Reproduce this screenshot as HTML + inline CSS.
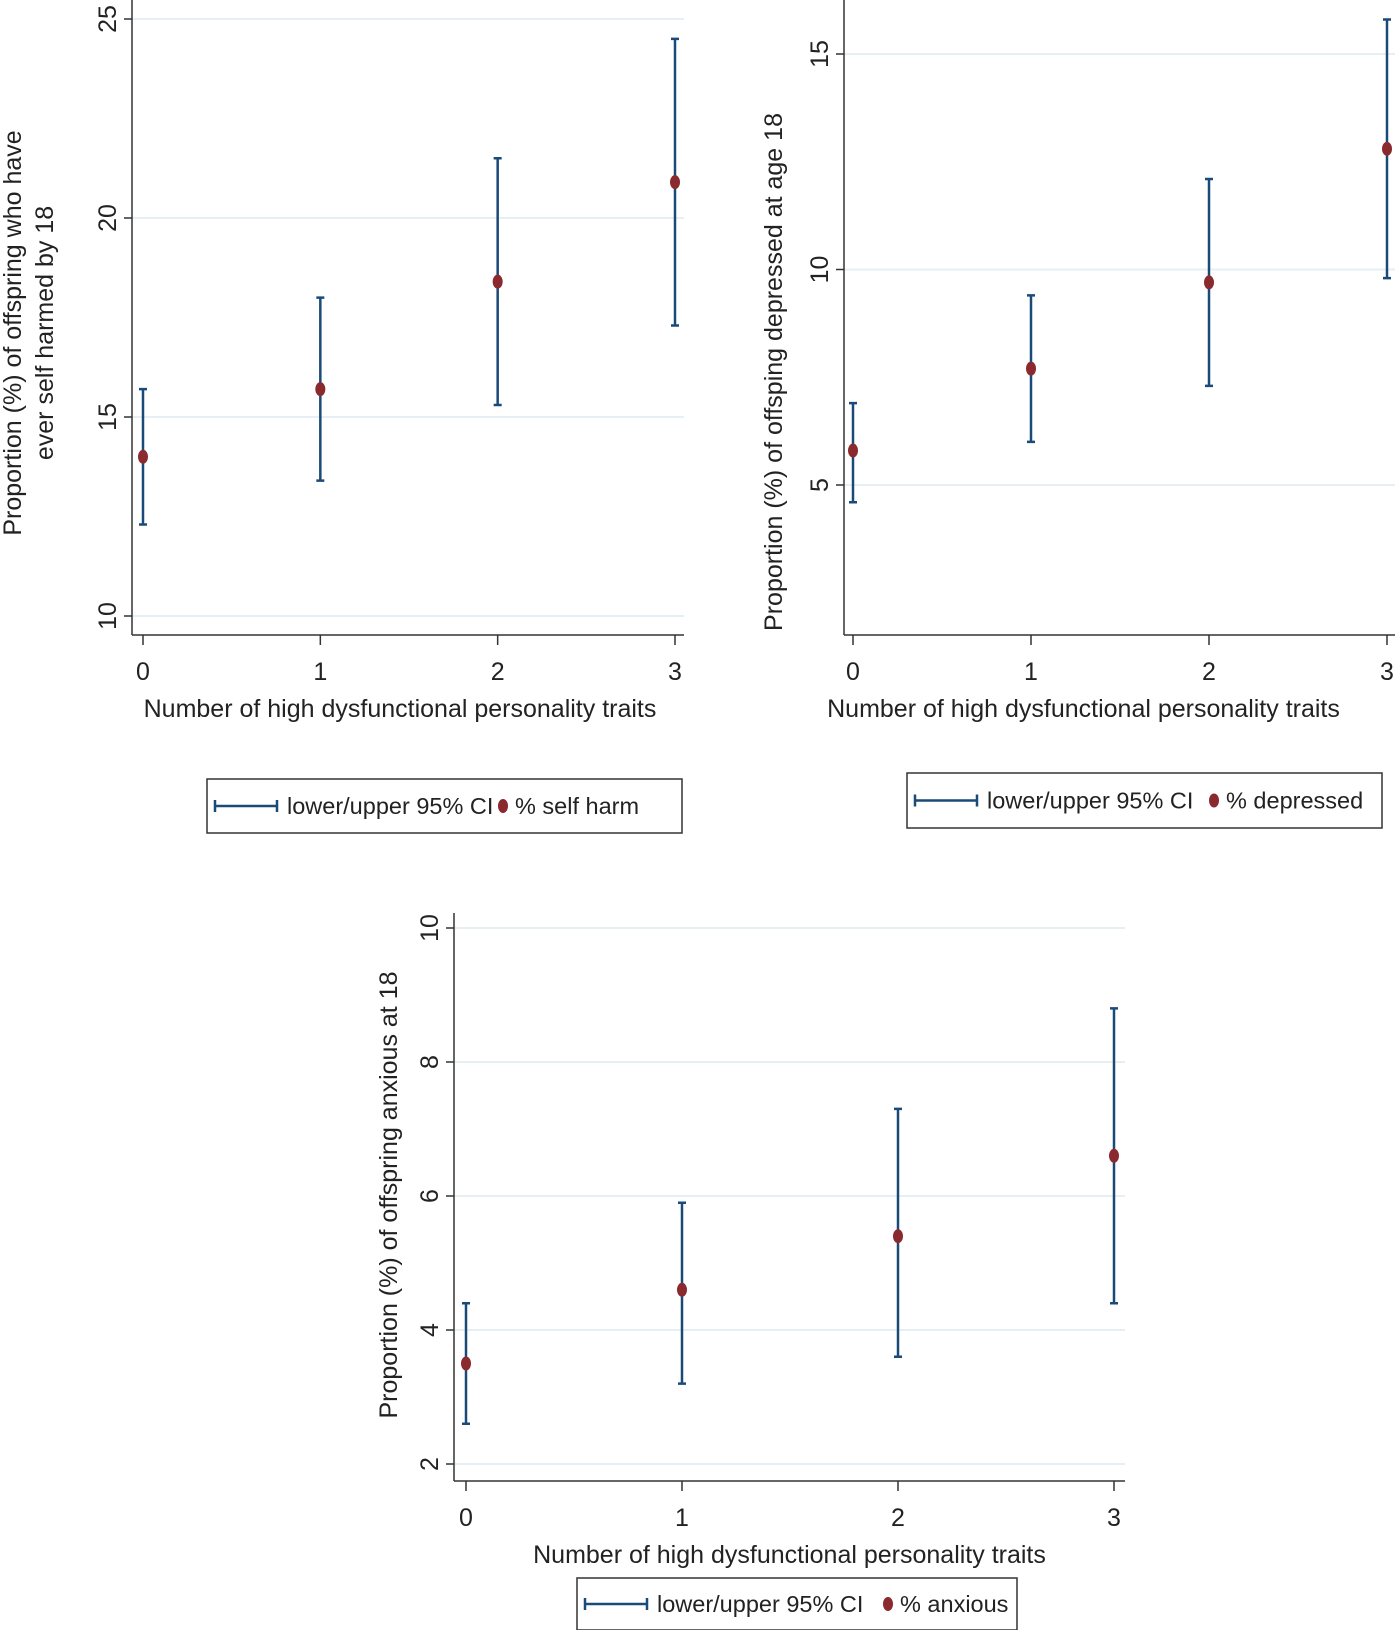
<!DOCTYPE html>
<html><head><meta charset="utf-8"><style>
body{margin:0;background:#fff}
svg{display:block;font-family:"Liberation Sans",Arial,sans-serif}
</style></head><body>
<svg id="c" width="1400" height="1630" viewBox="0 0 1400 1630"></svg>
<script>
const cats=[0,1,2,3];
const harmVals=[14.0,15.7,18.4,20.9];
const harmLo=[12.3,13.4,15.3,17.3];
const harmHi=[15.7,18.0,21.5,24.5];
const harmTicks=[10,15,20,25];
const depVals=[5.8,7.7,9.7,12.8];
const depLo=[4.6,6.0,7.3,9.8];
const depHi=[6.9,9.4,12.1,15.8];
const depTicks=[5,10,15];
const anxVals=[3.5,4.6,5.4,6.6];
const anxLo=[2.6,3.2,3.6,4.4];
const anxHi=[4.4,5.9,7.3,8.8];
const anxTicks=[2,4,6,8,10];

const NS="http://www.w3.org/2000/svg";
const svg=document.getElementById('c');
function el(tag,attrs,parent,text){const e=document.createElementNS(NS,tag);for(const k in attrs)e.setAttribute(k,attrs[k]);if(text!==undefined)e.textContent=text;(parent||svg).appendChild(e);return e;}
const FS=25, LFS=23.5;

function chart(cfg){
  const g=el('g',{});
  
  
  const y=v=>cfg.py0+(v-cfg.v0)*(cfg.py1-cfg.py0)/(cfg.v1-cfg.v0);
  const x=c=>cfg.x0+c*(cfg.x3-cfg.x0)/3;
  cfg.ticks.forEach(t=>{
    const gl=el('line',{x1:cfg.ax,x2:cfg.right,y1:y(t),y2:y(t),stroke:'#e6eff3','stroke-width':2},g);
    
    
    el('line',{x1:cfg.ax-8,x2:cfg.ax,y1:y(t),y2:y(t),stroke:'#333','stroke-width':1.5},g);
    const tl=el('text',{x:0,y:0,transform:`translate(${cfg.ax-16},${y(t)}) rotate(-90)`,'text-anchor':'middle','font-size':FS,fill:'#222'},g,String(t));
    
    
  });
  const ya=el('line',{x1:cfg.ax,x2:cfg.ax,y1:cfg.top,y2:cfg.bottom,stroke:'#333','stroke-width':1.5},g);
  
  
  const xa=el('line',{x1:cfg.ax,x2:cfg.right,y1:cfg.bottom,y2:cfg.bottom,stroke:'#333','stroke-width':1.5},g);
  
  
  cats.forEach(c=>{
    el('line',{x1:x(c),x2:x(c),y1:cfg.bottom,y2:cfg.bottom+10,stroke:'#333','stroke-width':1.5},g);
    const tl=el('text',{x:x(c),y:cfg.bottom+45,'text-anchor':'middle','font-size':FS,fill:'#222'},g,String(c));
    
    
  });
  cats.forEach((c,i)=>{
    const eb=el('path',{d:`M${x(c)},${y(cfg.lo[i])}V${y(cfg.hi[i])}M${x(c)-4},${y(cfg.lo[i])}h8M${x(c)-4},${y(cfg.hi[i])}h8`,stroke:'#1a4a78','stroke-width':2.5,fill:'none'},g);
    
    
    const p=el('ellipse',{cx:x(c),cy:y(cfg.vals[i]),rx:5,ry:7,fill:'#8b2a2e'},g);
    
    
  });
  const xt=el('text',{x:(cfg.ax+cfg.right)/2+cfg.xtOff,y:cfg.bottom+82,'text-anchor':'middle','font-size':FS,fill:'#222'},g,'Number of high dysfunctional personality traits');
  
  
  cfg.ytitle.forEach((line,k)=>{
    const t=el('text',{x:0,y:0,transform:`translate(${cfg.ytx[k]},${cfg.ytc}) rotate(-90)`,'text-anchor':'middle','font-size':FS,fill:'#222'},g,line);
    
    
  });
  const L=cfg.leg;
  const lg=el('g',{},g);
  
  
  el('rect',{x:L.x,y:L.y,width:L.w,height:L.h,fill:'#fff',stroke:'#333','stroke-width':1.5},lg);
  const cy=L.y+L.h/2;
  el('path',{d:`M${L.x+8},${cy}h62M${L.x+8},${cy-6}v12M${L.x+70},${cy-6}v12`,stroke:'#1a4a78','stroke-width':2.5,fill:'none'},lg);
  const t1=el('text',{x:L.x+80,y:cy+8,'font-size':LFS,fill:'#222'},lg,'lower/upper 95% CI');
  
  
  el('ellipse',{cx:L.dx,cy:cy,rx:5,ry:7,fill:'#8b2a2e'},lg);
  const t2=el('text',{x:L.dx+12,y:cy+8,'font-size':LFS,fill:'#222'},lg,cfg.label);
  
  
}

chart({name:'self-harm-chart',ax:132,right:684,top:0,bottom:635,x0:143,x3:675,v0:10,v1:25,py0:616,py1:19,
  ticks:harmTicks,vals:harmVals,lo:harmLo,hi:harmHi,xtOff:-8,
  ytitle:['Proportion (%) of offspring who have','ever self harmed by 18'],ytx:[21,53],ytc:333,
  leg:{x:207,y:779,w:475,h:54,dx:503},label:'% self harm'});
chart({name:'depression-chart',ax:844,right:1395,top:0,bottom:635,x0:853,x3:1387,v0:5,v1:15,py0:485,py1:54,
  ticks:depTicks,vals:depVals,lo:depLo,hi:depHi,xtOff:-36,
  ytitle:['Proportion (%) of offsping depressed at age 18'],ytx:[782],ytc:372,
  leg:{x:907,y:773,w:475,h:55,dx:1214},label:'% depressed'});
chart({name:'anxiety-chart',ax:454,right:1125,top:913,bottom:1481,x0:466,x3:1114,v0:2,v1:10,py0:1464,py1:928,
  ticks:anxTicks,vals:anxVals,lo:anxLo,hi:anxHi,xtOff:0,
  ytitle:['Proportion (%) of offspring anxious at 18'],ytx:[397],ytc:1195,
  leg:{x:577,y:1578,w:440,h:52,dx:888},label:'% anxious'});
</script>
</body></html>
